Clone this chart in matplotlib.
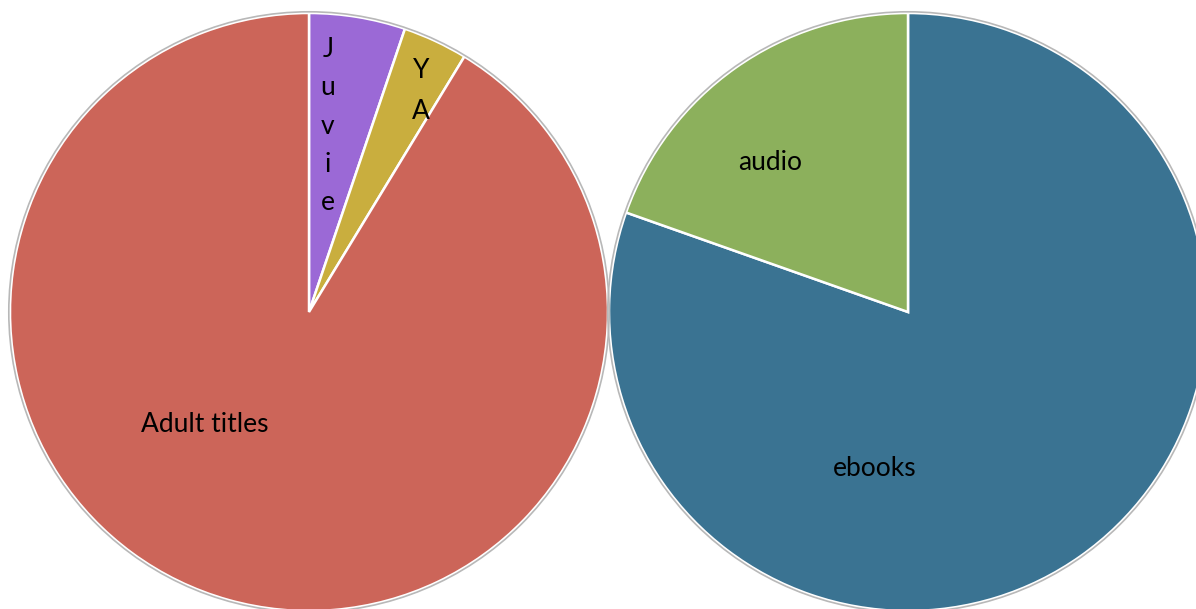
import matplotlib
matplotlib.use("Agg")
import matplotlib.pyplot as plt
from matplotlib.patches import Circle

# Titles by readership
audience_labels = ["Juvie", "YA", "Adult titles"]
audience_shares = [5.2, 3.5, 91.3]
audience_colors = ["#9B69D6", "#C9AE3E", "#CC6559"]

# Titles by format
format_labels = ["ebooks", "audio"]
format_shares = [80.4, 19.6]
format_colors = ["#3A7392", "#8CB05C"]

W, H = 1196, 609
fig = plt.figure(figsize=(W / 100, H / 100), dpi=100)
ax = fig.add_axes([0, 0, 1, 1])

left_c, right_c = (309, H - 312), (908, H - 312)
R = 299

wedge_kw = dict(edgecolor="white", linewidth=1.8, antialiased=True)
ax.pie(audience_shares, colors=audience_colors, startangle=90, counterclock=False,
       center=left_c, radius=R, wedgeprops=wedge_kw)
ax.pie(format_shares, colors=format_colors, startangle=90, counterclock=False,
       center=right_c, radius=R, wedgeprops=wedge_kw)

for c in (left_c, right_c):
    ax.add_patch(Circle(c, R + 1.2, fill=False, edgecolor="#b8b8b8", linewidth=1.2))

font = dict(family=["Lato", "DejaVu Sans"], fontsize=19, color="black",
            ha="center", va="center")

# Labels for the readership pie (stacked letters in the narrow slices)
ax.text(left_c[0] + 19, H - 126, "\n".join(audience_labels[0]), linespacing=1.66, **font)
ax.text(left_c[0] + 112, H - 91, "\n".join(audience_labels[1]), linespacing=1.83, **font)
ax.text(left_c[0] - 104, H - 425, audience_labels[2], **font)

# Labels for the format pie
ax.text(right_c[0] - 138, H - 163, format_labels[1], **font)
ax.text(right_c[0] - 33, H - 469, format_labels[0], **font)

ax.set_xlim(0, W)
ax.set_ylim(0, H)
ax.set_aspect("equal")
ax.axis("off")

fig.savefig("out.png", dpi=100, facecolor="white")
